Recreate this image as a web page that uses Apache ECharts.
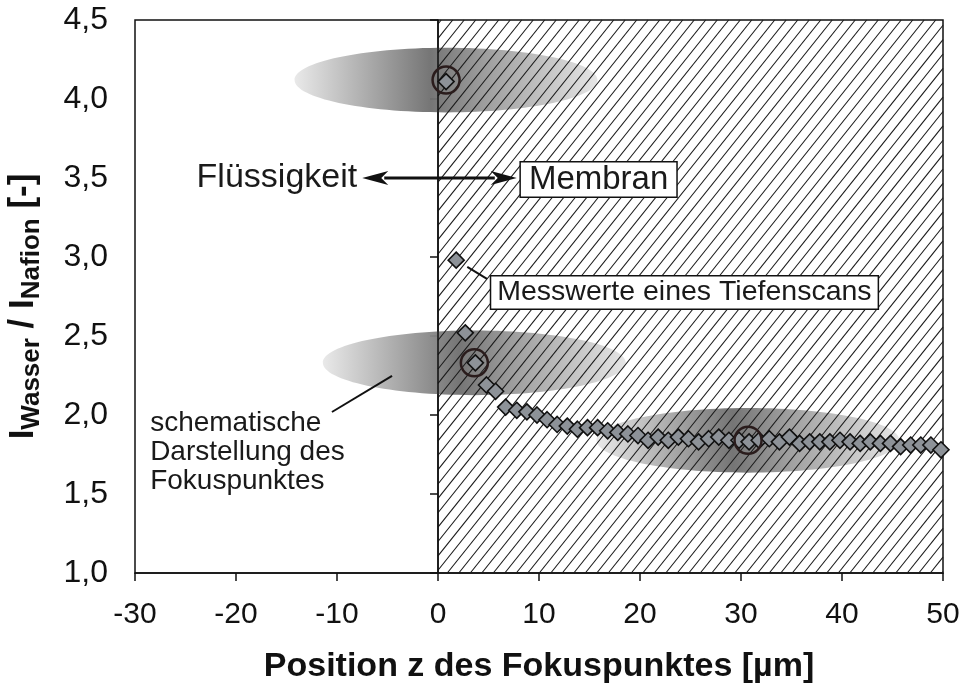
<!DOCTYPE html>
<html><head><meta charset="utf-8">
<script src="https://cdn.jsdelivr.net/npm/echarts@6/dist/echarts.min.js"></script>
<style>html,body{margin:0;padding:0;background:#fff}#c{width:960px;height:689px}</style>
</head><body><div id="c"></div>
<script>
// ---- data ----
const positions = [0.8, 1.8, 2.7, 3.7, 4.8, 5.7, 6.7, 7.8, 8.8, 9.8,
  10.8, 11.8, 12.8, 13.8, 14.8, 15.8, 16.8, 17.8, 18.8, 19.8,
  20.8, 21.8, 22.8, 23.8, 24.8, 25.8, 26.8, 27.8, 28.8, 29.8,
  30.8, 31.8, 32.8, 33.8, 34.8, 35.8, 36.8, 37.8, 38.8, 39.8,
  40.8, 41.8, 42.8, 43.8, 44.8, 45.8, 46.8, 47.8, 48.8, 49.8];
const ratios = [4.11, 2.98, 2.52, 2.33, 2.19, 2.15, 2.05, 2.03, 2.02, 2.00,
  1.97, 1.94, 1.93, 1.91, 1.92, 1.92, 1.90, 1.89, 1.88, 1.87,
  1.84, 1.86, 1.84, 1.86, 1.85, 1.83, 1.85, 1.86, 1.84, 1.84,
  1.83, 1.84, 1.85, 1.83, 1.86, 1.82, 1.83, 1.83, 1.83, 1.84,
  1.83, 1.82, 1.83, 1.82, 1.82, 1.80, 1.81, 1.81, 1.81, 1.78];
const focusX = [0.8, 3.6, 30.7];
const focusY = [4.12, 2.33, 1.84];
const focusSize = [30, 0.41];          // extent of schematic focus (µm, ratio units)
const membraneRange = [0, 50];
const xTicks = [-30, -20, -10, 0, 10, 20, 30, 40, 50];
const yTicks = ['1,0', '1,5', '2,0', '2,5', '3,0', '3,5', '4,0', '4,5'];

const Y_MIN = 1, Y_MAX = 4.5;
const FONT = "'Liberation Sans', Arial, sans-serif";

const chart = echarts.init(document.getElementById('c'), null, {renderer: 'canvas'});

const ellipseFill = {
  type: 'linear', x: 0, y: 0, x2: 1, y2: 0,
  colorStops: [
    {offset: 0, color: '#e8e8e8'},
    {offset: 0.45, color: '#6e6e6e'},
    {offset: 0.62, color: '#979797'},
    {offset: 1, color: '#e4e4e4'}
  ]
};

chart.setOption({
  animation: false,
  backgroundColor: '#fff',
  grid: {left: 135, right: 17, top: 20, bottom: 116, outerBoundsMode: 'none', containLabel: false,
    show: true, borderColor: '#111', borderWidth: 1.5, backgroundColor: 'transparent'},
  xAxis: {
    type: 'value', min: xTicks[0], max: xTicks[xTicks.length - 1], interval: 10,
    name: 'Position z des Fokuspunktes [µm]', nameLocation: 'middle', nameGap: 77,
    nameTextStyle: {fontFamily: FONT, fontWeight: 'bold', fontSize: 34, color: '#111'},
    axisLine: {lineStyle: {color: '#111', width: 1.5}},
    axisTick: {show: true, inside: false, length: 8, lineStyle: {color: '#111', width: 1.5}},
    axisLabel: {fontFamily: "'Liberation Sans Narrow', 'Liberation Sans', Arial", fontSize: 30, color: '#111', margin: 27,
      formatter: v => String(xTicks[xTicks.indexOf(v)])},
    splitLine: {show: false}
  },
  yAxis: {
    type: 'value', min: Y_MIN, max: Y_MAX, interval: 0.5,
    name: '{m|I}{s|Wasser}{m| / I}{s|Nafion}{m| [-]}', nameLocation: 'middle', nameGap: 90, nameRotate: 90,
    nameTextStyle: {
      padding: [0, 20, 0, 0],
      rich: {
        m: {fontFamily: FONT, fontWeight: 'bold', fontSize: 35, color: '#111', lineHeight: 40},
        s: {fontFamily: FONT, fontWeight: 'bold', fontSize: 26, color: '#111', lineHeight: 44, verticalAlign: 'bottom'}
      }
    },
    axisLine: {show: true, lineStyle: {color: '#111', width: 1.5}},
    axisTick: {show: true, inside: false, length: 8, lineStyle: {color: '#111', width: 1.5}},
    axisLabel: {fontFamily: FONT, fontSize: 32, color: '#111', margin: 27,
      formatter: v => yTicks[Math.round((v - Y_MIN) / 0.5)]},
    splitLine: {show: false}
  },
  series: [
    {
      type: 'custom', name: 'focus', z: 1, silent: true,
      data: focusX.map((x, i) => [x, focusY[i]]),
      renderItem: function (params, api) {
        const c = api.coord([api.value(0), api.value(1)]);
        const s = api.size(focusSize);
        return {type: 'ellipse', shape: {cx: c[0], cy: c[1], rx: s[0] / 2, ry: s[1] / 2}, style: {fill: ellipseFill, opacity: 0.95}};
      }
    },
    {
      type: 'custom', name: 'membrane', z: 2, silent: true,
      data: [[membraneRange[0], membraneRange[1], Y_MIN, Y_MAX]],
      encode: {x: [0, 1], y: [2, 3]},
      renderItem: function (params, api) {
        const p0 = api.coord([api.value(0), api.value(3)]);
        const p1 = api.coord([api.value(1), api.value(2)]);
        const x0 = p0[0], y0 = p0[1], x1 = p1[0], y1 = p1[1];
        const k = 1.25, h = 11.5;
        const children = [];
        for (let c = y0 + k * x0 + 4; c <= y1 + k * x1; c += k * h) {
          const lo = Math.max(x0, (c - y1) / k), hi = Math.min(x1, (c - y0) / k);
          if (hi > lo) children.push({type: 'line', shape: {x1: lo, y1: c - k * lo, x2: hi, y2: c - k * hi}, style: {stroke: '#1a1a1a', lineWidth: 1.1}});
        }
        children.push({type: 'line', shape: {x1: x0, y1: y0, x2: x0, y2: y1}, style: {stroke: '#111', lineWidth: 1.5}});
        return {type: 'group', children: children};
      }
    },
    {
      type: 'scatter', name: 'Messwerte', z: 3,
      symbol: 'diamond', symbolSize: 16,
      itemStyle: {color: '#8d9298', borderColor: '#111', borderWidth: 1.6, opacity: 1},
      data: positions.map((x, i) => [x, ratios[i]])
    },
    {
      type: 'scatter', name: 'focusRing', z: 4, silent: true,
      symbol: 'circle', symbolSize: 27,
      itemStyle: {color: 'rgba(0,0,0,0)', borderColor: '#2a1c1c', borderWidth: 2.5, opacity: 1},
      data: focusX.map((x, i) => [x, focusY[i]])
    }
  ]
});

// ---- annotations anchored in data space ----
const P = (x, y) => chart.convertToPixel({gridIndex: 0}, [x, y]);
const txt = (pos, text, size, align, extra) => Object.assign({
  type: 'text', x: pos[0], y: pos[1], z: 100,
  style: Object.assign({text: text, font: 'normal ' + size + 'px ' + FONT, fill: '#1a1a1a', align: align, verticalAlign: 'middle'}, extra || {})
});
const line = (a, b, w) => ({type: 'line', z: 100, shape: {x1: a[0], y1: a[1], x2: b[0], y2: b[1]}, style: {stroke: '#111', lineWidth: w}});

const aL = P(-7.5, 3.5), aR = P(7.8, 3.5);
const head = 26, hw = 7;
chart.setOption({
  graphic: [
    txt(P(-8.0, 3.5), 'Flüssigkeit', 34, 'right'),
    line([aL[0] + head - 4, aL[1]], [aR[0] - head + 4, aR[1]], 3),
    {type: 'polygon', z: 100, shape: {points: [[aL[0], aL[1]], [aL[0] + head, aL[1] - hw], [aL[0] + head - 7, aL[1]], [aL[0] + head, aL[1] + hw]]}, style: {fill: '#111'}},
    {type: 'polygon', z: 100, shape: {points: [[aR[0], aR[1]], [aR[0] - head, aR[1] - hw], [aR[0] - head + 7, aR[1]], [aR[0] - head, aR[1] + hw]]}, style: {fill: '#111'}},
    txt(P(15.9, 3.49), 'Membran', 33, 'center', {backgroundColor: '#fff', borderColor: '#111', borderWidth: 1.5, padding: [1, 8, 0, 8]}),
    line(P(2.9, 2.937), P(4.85, 2.861), 2),
    txt(P(24.4, 2.775), 'Messwerte eines Tiefenscans', 28.5, 'center', {backgroundColor: '#fff', borderColor: '#111', borderWidth: 1.5, padding: [2, 6, 1, 6]}),
    txt(P(-28.5, 1.762), 'schematische\nDarstellung des\nFokuspunktes', 28, 'left', {lineHeight: 29}),
    line(P(-10.5, 2.019), P(-4.55, 2.247), 2)
  ]
});
</script>
</body></html>
